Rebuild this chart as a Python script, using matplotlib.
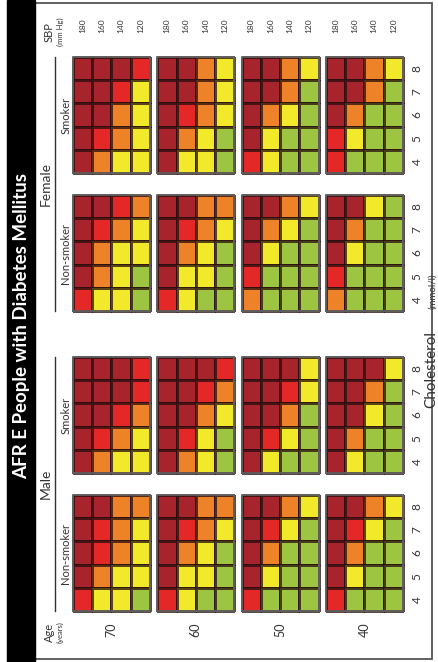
import numpy as np
import matplotlib.pyplot as plt
from matplotlib.colors import ListedColormap
from matplotlib.patches import Rectangle

plt.rcParams['font.family'] = ['Lato', 'DejaVu Sans']

# risk levels: 0 <10%, 1 10-20%, 2 20-30%, 3 30-40%, 4 >=40%
# each matrix: rows = cholesterol 8,7,6,5,4 ; columns = SBP 180,160,140,120
ages = [70, 60, 50, 40]
sbp_labels = ['180', '160', '140', '120']
chol_labels = ['8', '7', '6', '5', '4']
groups = ['Female smoker', 'Female non-smoker', 'Male smoker', 'Male non-smoker']

female_smoker = {
    70: [[4, 4, 4, 3], [4, 4, 3, 1], [4, 4, 2, 1], [4, 3, 2, 1], [4, 2, 1, 1]],
    60: [[4, 4, 2, 1], [4, 4, 2, 1], [4, 3, 2, 1], [4, 2, 1, 0], [4, 1, 1, 0]],
    50: [[4, 4, 2, 1], [4, 4, 2, 0], [4, 2, 1, 0], [4, 1, 0, 0], [3, 1, 0, 0]],
    40: [[4, 4, 2, 1], [4, 4, 2, 0], [4, 2, 0, 0], [3, 1, 0, 0], [3, 0, 0, 0]],
}
female_nonsmoker = {
    70: [[4, 4, 3, 2], [4, 3, 2, 1], [4, 2, 1, 1], [4, 2, 1, 0], [3, 1, 1, 0]],
    60: [[4, 4, 2, 2], [4, 3, 2, 1], [4, 2, 1, 0], [4, 1, 1, 0], [3, 1, 0, 0]],
    50: [[4, 4, 2, 1], [4, 2, 1, 0], [4, 1, 0, 0], [3, 0, 0, 0], [2, 0, 0, 0]],
    40: [[4, 4, 1, 0], [4, 2, 0, 0], [4, 1, 0, 0], [3, 0, 0, 0], [2, 0, 0, 0]],
}
male_smoker = {
    70: [[4, 4, 4, 3], [4, 4, 4, 3], [4, 4, 3, 2], [4, 3, 2, 1], [4, 2, 1, 1]],
    60: [[4, 4, 4, 3], [4, 4, 3, 2], [4, 4, 2, 1], [4, 3, 1, 0], [4, 2, 1, 0]],
    50: [[4, 4, 4, 1], [4, 4, 3, 1], [4, 4, 2, 0], [4, 3, 1, 0], [4, 1, 0, 0]],
    40: [[4, 4, 4, 1], [4, 4, 2, 0], [4, 4, 1, 0], [4, 2, 0, 0], [4, 1, 0, 0]],
}
male_nonsmoker = {
    70: [[4, 4, 2, 2], [4, 3, 2, 1], [4, 3, 2, 1], [4, 2, 1, 1], [3, 1, 1, 0]],
    60: [[4, 4, 2, 2], [4, 3, 2, 1], [4, 2, 1, 0], [4, 1, 1, 0], [3, 1, 0, 0]],
    50: [[4, 4, 2, 1], [4, 3, 1, 0], [4, 2, 0, 0], [4, 1, 0, 0], [3, 0, 0, 0]],
    40: [[4, 4, 2, 1], [4, 3, 1, 0], [4, 2, 0, 0], [4, 1, 0, 0], [3, 0, 0, 0]],
}
tables = [female_smoker, female_nonsmoker, male_smoker, male_nonsmoker]

risk_colors = ['#9dc541', '#f2e92b', '#ee8228', '#e42727', '#a8242d']
cmap = ListedColormap(risk_colors)

# layout in pixel units (chart is printed rotated by 90 degrees)
block_x = [73, 157.3, 241.6, 326]
block_y = [57, 195, 357, 495]
block_w, block_h = 77, 116
cw, ch = block_w / 4, block_h / 5

fig = plt.figure(figsize=(4.39, 6.62), dpi=100)
ax = fig.add_axes([0, 0, 1, 1])
ax.set_xlim(0, 439)
ax.set_ylim(662, 0)
ax.axis('off')

# frame and title bar
ax.add_patch(Rectangle((35, 3), 397, 656, fill=False, ec='#555555', lw=1.3))
ax.add_patch(Rectangle((7, 0), 28, 662, color='black'))
ax.text(22, 326, 'AFR E People with Diabetes Mellitus', rotation=90, color='white',
        fontsize=13.5, fontweight='bold', ha='center', va='center')

for gi, table in enumerate(tables):
    y0 = block_y[gi]
    for ai, age in enumerate(ages):
        x0 = block_x[ai]
        data = np.array(table[age])
        xe = x0 + np.arange(5) * cw
        ye = y0 + np.arange(6) * ch
        ax.pcolormesh(xe, ye, data, cmap=cmap, vmin=-0.5, vmax=4.5,
                      edgecolors=(0.15, 0.05, 0.05, 0.75), linewidth=0.9)
        ax.add_patch(Rectangle((x0, y0), block_w, block_h, fill=False,
                               ec='#666666', lw=1.2))
    # cholesterol labels on the right
    for ri, lab in enumerate(chol_labels):
        ax.text(417, y0 + (ri + 0.5) * ch, lab, rotation=90, fontsize=8.5,
                ha='center', va='center', color='#333333')

# SBP labels along the top
for ai in range(len(ages)):
    for ci, lab in enumerate(sbp_labels):
        ax.text(block_x[ai] + (ci + 0.5) * cw, 26, lab, rotation=90, fontsize=6,
                ha='center', va='center', color='#333333')
ax.text(49, 32, 'SBP', rotation=90, fontsize=8, ha='center', va='center', color='#333333')
ax.text(60, 32, '(mm Hg)', rotation=90, fontsize=5.5, ha='center', va='center', color='#333333')

# age labels along the bottom
for ai, age in enumerate(ages):
    ax.text(block_x[ai] + block_w / 2, 630, str(age), rotation=90, fontsize=9,
            ha='center', va='center', color='#333333')
ax.text(49, 632, 'Age', rotation=90, fontsize=8, ha='center', va='center', color='#333333')
ax.text(60, 632, '(years)', rotation=90, fontsize=5.5, ha='center', va='center', color='#333333')

# sex and smoking labels
for sex, (ga, gb) in [('Female', (0, 1)), ('Male', (2, 3))]:
    top, bot = block_y[ga], block_y[gb] + block_h
    ax.plot([55, 55], [top, bot], color='#333333', lw=1)
    ax.text(46, (top + bot) / 2, sex, rotation=90, fontsize=10,
            ha='center', va='center', color='#333333')
for gi, name in enumerate(['Smoker', 'Non-smoker', 'Smoker', 'Non-smoker']):
    ax.text(66, block_y[gi] + block_h / 2, name, rotation=90, fontsize=8,
            ha='center', va='center', color='#333333')

ax.text(431, 369, 'Cholesterol', rotation=90, fontsize=11, ha='center', va='center',
        color='#333333')
ax.text(433, 291, '(mmol/l)', rotation=90, fontsize=7, ha='center', va='center',
        color='#333333')

fig.savefig('out.png', dpi=100)
